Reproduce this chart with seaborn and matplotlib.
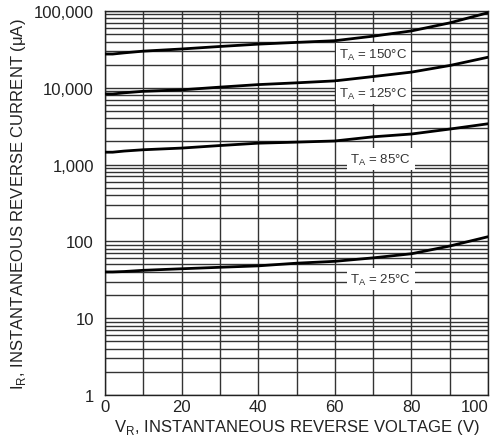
import numpy as np
import pandas as pd
import matplotlib
matplotlib.use("Agg")
import matplotlib.pyplot as plt
import seaborn as sns
from matplotlib.ticker import FixedLocator, NullFormatter

# Reverse voltage (V) and reverse current (uA) for each junction temperature
voltage = [0, 2, 5, 10, 20, 30, 40, 50, 60, 70, 80, 90, 100]
i_150 = [27500, 27500, 28500, 30000, 32000, 34500, 37000, 39000, 41000, 47000, 55000, 70000, 95000]
i_125 = [8300, 8300, 8600, 9000, 9400, 10200, 11000, 11600, 12300, 14000, 16000, 19500, 25000]
i_85 = [1450, 1450, 1500, 1560, 1640, 1770, 1900, 1960, 2030, 2300, 2500, 2900, 3400]
i_25 = [40, 40, 40.5, 42, 44, 46, 48, 52, 55, 61, 69, 87, 115]
temps = ["150°C", "125°C", "85°C", "25°C"]

# curve labels: (x position in V, y position in uA)
label_pos = {"150°C": (70, 27500), "125°C": (70, 8500), "85°C": (72, 1170), "25°C": (72, 32)}

y_ticks = [1, 10, 100, 1000, 10000, 100000]
y_ticklabels = ["1", "10", "100", "1,000", "10,000", "100,000"]
x_ticks = [0, 20, 40, 60, 80, 100]

rows = []
for t, vals in zip(temps, [i_150, i_125, i_85, i_25]):
    for v, i in zip(voltage, vals):
        rows.append({"V": v, "I": i, "T": t})
df = pd.DataFrame(rows)

sns.set_style("white")
plt.rcParams["font.family"] = ["Liberation Sans", "DejaVu Sans"]

fig = plt.figure(figsize=(4.94, 4.39), dpi=100)
ax = fig.add_axes([0.2126, 0.098, 0.7754, 0.8747])

ax.set_yscale("log")
ax.set_xlim(0, 100)
ax.set_ylim(1, 100000)

# grid: every 10 V and every 1-9 per decade
ax.xaxis.set_minor_locator(FixedLocator(np.arange(0, 101, 10)))
minor_y = [m * 10 ** d for d in range(0, 5) for m in range(2, 10)]
ax.yaxis.set_minor_locator(FixedLocator(minor_y))
ax.yaxis.set_minor_formatter(NullFormatter())
ax.set_yticks(y_ticks)
ax.set_yticklabels(y_ticklabels)
ax.set_xticks(x_ticks)
ax.grid(True, which="both", color="#333333", linewidth=1.0)
ax.set_axisbelow(True)

sns.lineplot(data=df, x="V", y="I", units="T", estimator=None, color="black",
             linewidth=2.0, ax=ax, legend=False, zorder=3)

for t in temps:
    x, y = label_pos[t]
    ax.text(x, y, r"T$_\mathregular{A}$ = " + t, ha="center", va="center", fontsize=9.5,
            color="#333333", zorder=4,
            bbox=dict(facecolor="white", edgecolor="none", pad=2.5))

ax.tick_params(axis="both", which="both", length=0, labelsize=12, colors="#222222")
ax.tick_params(axis="y", pad=8)
ax.tick_params(axis="x", pad=3)
# keep the last voltage label inside the figure
ax.get_xticklabels()[-1].set_horizontalalignment("right")
for s in ax.spines.values():
    s.set_color("#222222")
    s.set_linewidth(1.0)

ax.set_xlabel(r"V$_\mathregular{R}$, INSTANTANEOUS REVERSE VOLTAGE (V)", fontsize=12,
              color="#222222", labelpad=2)
ax.set_ylabel(r"I$_\mathregular{R}$, INSTANTANEOUS REVERSE CURRENT (μA)", fontsize=12,
              color="#222222", labelpad=4)

fig.savefig("out.png", dpi=100)
